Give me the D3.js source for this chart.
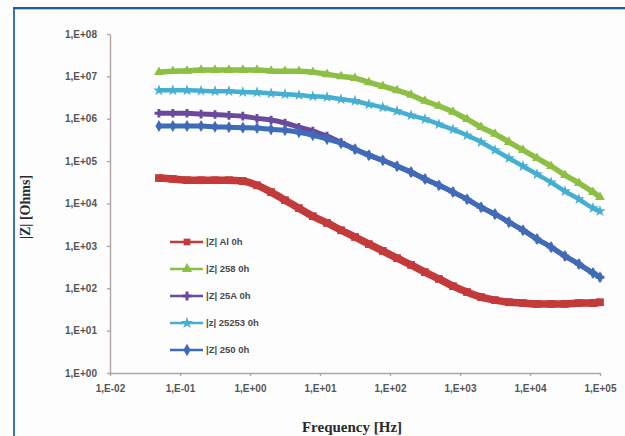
<!DOCTYPE html>
<html lang="en">
<head>
    <meta charset="UTF-8">
    <title>Impedance</title>
    <script src="https://d3js.org/d3.v7.min.js"></script>
    <style>
        html, body {
            margin: 0;
            background: #fdfdfd;
        }
        .tick text {
            font-family: "Liberation Sans", sans-serif;
            font-weight: bold;
            font-size: 10px;
            fill: #555;
        }
        .axis path, .axis line {
            stroke: #b0a4a4;
            stroke-width: 1.4px;
        }
    </style>
</head>
<body>
    <div id="vis"></div>
    <script>

        var width = 625
        var height = 436

        // frequency [Hz]
        var freq = [0.05, 0.079, 0.126, 0.2, 0.316, 0.5, 0.79, 1.26, 2, 3.16, 5, 7.9, 12.6, 20, 31.6, 50, 79,
            126, 200, 316, 500, 794, 1260, 2000, 3160, 5000, 7940, 12600, 20000, 31600, 50000, 79400, 100000];

        // |Z| [Ohms]
        var zAl = [39800, 38000, 35500, 35500, 35500, 35500, 33900, 26900, 18600, 12000, 7760, 5010, 3470, 2340,
            1620, 1100, 759, 513, 355, 240, 166, 112, 81.3, 61.7, 52.5, 46.8, 44.7, 42.7, 42.7, 42.7, 44.7, 44.7, 46.8];
        var z258 = [1.26e7, 1.32e7, 1.35e7, 1.41e7, 1.41e7, 1.41e7, 1.41e7, 1.41e7, 1.35e7, 1.32e7, 1.32e7, 1.26e7,
            1.12e7, 1.0e7, 9.12e6, 7.24e6, 5.89e6, 4.68e6, 3.63e6, 2.63e6, 2.0e6, 1.45e6, 9.77e5, 6.31e5, 4.37e5,
            2.82e5, 1.82e5, 1.17e5, 7.59e4, 4.68e4, 3.02e4, 1.86e4, 1.41e4];
        var z25A = [1.35e6, 1.35e6, 1.35e6, 1.29e6, 1.26e6, 1.20e6, 1.15e6, 1.02e6, 9.33e5, 7.94e5, 6.31e5, 5.13e5,
            3.89e5, 2.75e5, 1.91e5, 1.38e5, 1.05e5, 7.59e4, 5.50e4, 3.80e4, 2.69e4, 1.86e4, 1.26e4, 8130, 5620,
            3630, 2340, 1450, 933, 575, 372, 229, 182];
        var z25253 = [4.68e6, 4.68e6, 4.68e6, 4.57e6, 4.47e6, 4.47e6, 4.27e6, 4.17e6, 3.98e6, 3.80e6, 3.63e6, 3.39e6,
            3.24e6, 2.88e6, 2.63e6, 2.19e6, 1.86e6, 1.51e6, 1.20e6, 9.77e5, 7.41e5, 5.62e5, 4.07e5, 2.82e5, 1.82e5,
            1.17e5, 7.59e4, 4.90e4, 3.16e4, 1.95e4, 1.26e4, 7760, 6610];
        var z250 = [6.76e5, 6.76e5, 6.76e5, 6.76e5, 6.46e5, 6.31e5, 6.17e5, 6.03e5, 5.62e5, 5.37e5, 4.79e5, 4.07e5,
            3.31e5, 2.63e5, 1.91e5, 1.38e5, 1.05e5, 7.59e4, 5.50e4, 3.80e4, 2.69e4, 1.86e4, 1.26e4, 8130, 5620,
            3630, 2340, 1450, 933, 575, 372, 229, 182];

        var seriesNames = ['|Z| Al 0h', '|Z| 258 0h', '|Z| 25A 0h', '|z| 25253 0h', '|Z| 250 0h'];
        var seriesValues = [zAl, z258, z25A, z25253, z250];
        var seriesColours = ['#c23a3a', '#8dbf45', '#6a4a9c', '#45afd3', '#3f6cb8'];
        var seriesSymbols = [d3.symbolSquare, d3.symbolTriangle, d3.symbolCross, d3.symbolStar, d3.symbolDiamond];
        var seriesWidths = [7.5, 5.5, 5, 4.5, 5];

        var xTicks = [1e-2, 1e-1, 1, 1e1, 1e2, 1e3, 1e4, 1e5];
        var yTicks = [1, 1e1, 1e2, 1e3, 1e4, 1e5, 1e6, 1e7, 1e8];

        var svg = d3.select('#vis')
                    .append('svg')
                        .attr('width', width)
                        .attr('height', height);

        // blue frame
        svg.append('line')
            .attr('x1', 14).attr('x2', 14).attr('y1', 8).attr('y2', height)
            .attr('stroke', '#3a78b0').attr('stroke-width', 2);
        svg.append('line')
            .attr('x1', 13).attr('x2', width).attr('y1', 8).attr('y2', 8)
            .attr('stroke', '#1f5f99').attr('stroke-width', 2);
        svg.append('line')
            .attr('x1', 15).attr('x2', width).attr('y1', 9.5).attr('y2', 9.5)
            .attr('stroke', '#a9cbe6').attr('stroke-width', 1);

        var x = d3.scaleLog()
                    .domain([1e-2, 1e5])
                    .range([110, 600]);

        var y = d3.scaleLog()
                    .domain([1, 1e8])
                    .range([373, 34]);

        function sciLabel(d) {
            var e = Math.round(Math.log10(d));
            var s = e < 0 ? '-' : '+';
            var a = Math.abs(e);
            return '1,E' + s + (a < 10 ? '0' : '') + a;
        }

        svg.append('g')
            .attr('class', 'axis')
            .attr('transform', 'translate(0,' + 373 + ')')
            .call(d3.axisBottom(x).tickValues(xTicks).tickFormat(sciLabel).tickSizeInner(3).tickSizeOuter(0).tickPadding(9));

        svg.append('g')
            .attr('class', 'axis')
            .attr('transform', 'translate(110,0)')
            .call(d3.axisLeft(y).tickValues(yTicks).tickFormat(sciLabel).tickSizeInner(3).tickSizeOuter(0).tickPadding(10));

        var line = d3.line()
                    .x(function(d){ return x(d[0]); })
                    .y(function(d){ return y(d[1]); })
                    .curve(d3.curveMonotoneX);

        seriesValues.forEach(function(vals, i){
            var pts = freq.map(function(f, j){ return [f, vals[j]]; });
            var g = svg.append('g');

            g.append('path')
                .datum(pts)
                .attr('d', line)
                .attr('fill', 'none')
                .attr('stroke', seriesColours[i])
                .attr('stroke-width', seriesWidths[i]);

            g.selectAll('.pt')
                .data(pts)
                .enter()
                .append('path')
                .attr('class', 'pt')
                .attr('transform', function(d){ return 'translate(' + x(d[0]) + ',' + y(d[1]) + ')'; })
                .attr('d', d3.symbol().type(seriesSymbols[i]).size(i === 0 ? 60 : 42))
                .attr('fill', seriesColours[i]);
        });

        // legend
        var legend = svg.selectAll('.legend')
                    .data(seriesNames)
                    .enter()
                    .append('g')
                    .attr('class', 'legend')
                    .attr('transform', function(d, i){ return 'translate(170,' + (242 + i * 27) + ')'; });

        legend.append('line')
            .attr('x1', 0).attr('x2', 33)
            .attr('stroke', function(d, i){ return seriesColours[i]; })
            .attr('stroke-width', 2.5);

        legend.append('path')
            .attr('transform', 'translate(17,0)')
            .attr('d', function(d, i){ return d3.symbol().type(seriesSymbols[i]).size(45)(); })
            .attr('fill', function(d, i){ return seriesColours[i]; });

        legend.append('text')
            .attr('x', 36)
            .attr('dy', '0.35em')
            .attr('font-family', 'Liberation Sans, sans-serif')
            .attr('font-weight', 'bold')
            .attr('font-size', '9.5px')
            .attr('fill', '#4a4a4a')
            .text(function(d){ return d; });

        // axis titles
        svg.append('text')
            .attr('transform', 'translate(352,432)')
            .style('text-anchor', 'middle')
            .attr('font-family', 'Liberation Serif, serif')
            .attr('font-weight', 'bold')
            .attr('font-size', '15px')
            .attr('fill', '#2a2a2a')
            .text('Frequency [Hz]');

        svg.append('text')
            .attr('transform', 'translate(30,207)rotate(-90)')
            .style('text-anchor', 'middle')
            .attr('font-family', 'Liberation Serif, serif')
            .attr('font-weight', 'bold')
            .attr('font-size', '14px')
            .attr('fill', '#2a2a2a')
            .text('|Z| [Ohms]');

    </script>
</body>
</html>
